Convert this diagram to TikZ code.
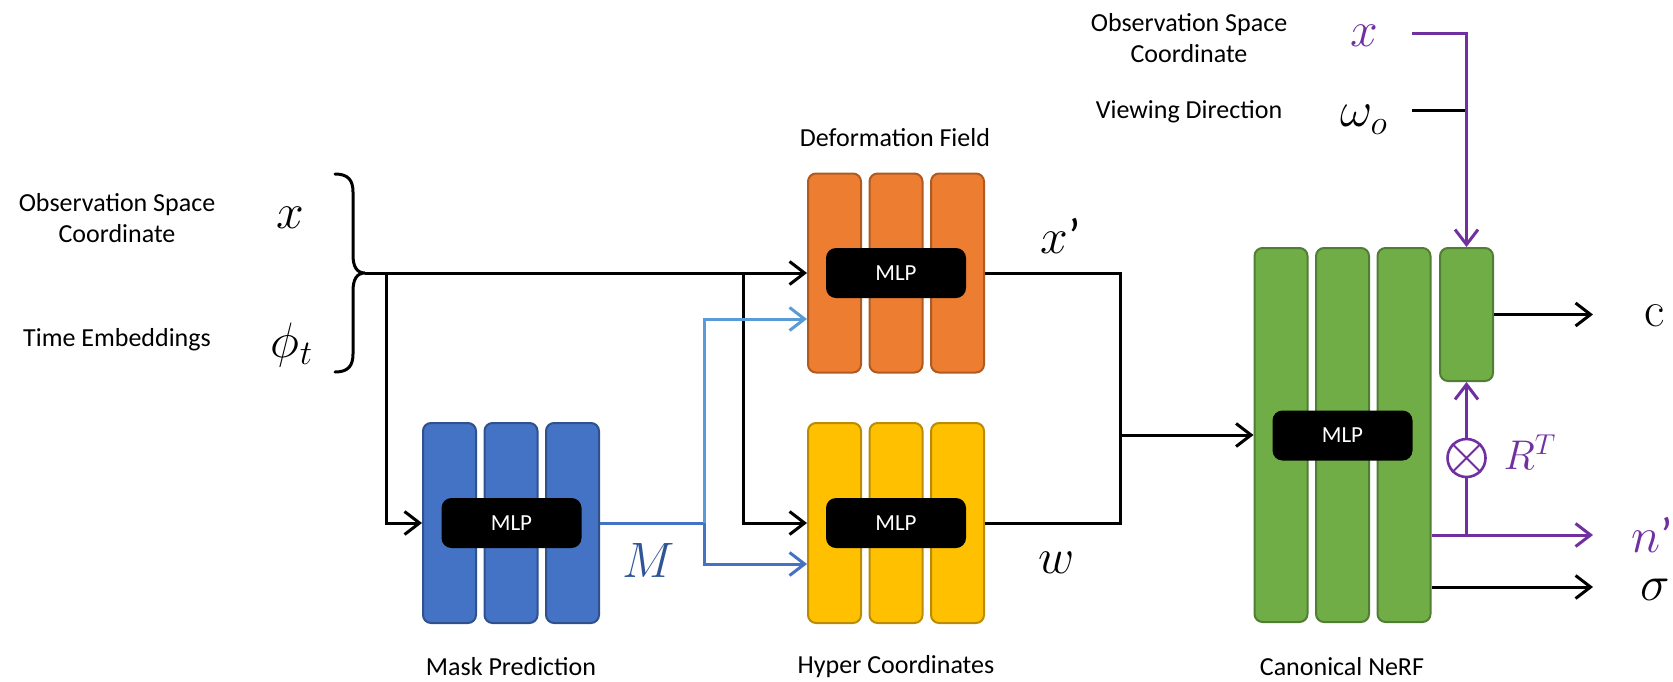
\documentclass[tikz,border=0pt]{standalone}
\usepackage[no-math]{fontspec}
\setmainfont{Carlito}
\usetikzlibrary{arrows.meta}
\definecolor{cOrange}{HTML}{ED7D31}
\definecolor{cOrangeD}{HTML}{AE5A21}
\definecolor{cYellow}{HTML}{FFC000}
\definecolor{cYellowD}{HTML}{BC8C00}
\definecolor{cBlue}{HTML}{4472C4}
\definecolor{cBlueD}{HTML}{2F528F}
\definecolor{cGreen}{HTML}{70AD47}
\definecolor{cGreenD}{HTML}{507E32}
\definecolor{cLBlue}{HTML}{5B9BD5}
\definecolor{cPurple}{HTML}{7030A0}
\definecolor{cMlab}{HTML}{2F5597}
\begin{document}
\begin{tikzpicture}[x=0.5pt,y=-0.5pt,
  bar/.style={rectangle, rounded corners=4pt, minimum width=26.5pt, minimum height=100pt, inner sep=0pt, line width=1pt},
  obar/.style={bar, fill=cOrange, draw=cOrangeD, minimum height=99.5pt},
  ybar/.style={bar, fill=cYellow, draw=cYellowD},
  bbar/.style={bar, fill=cBlue, draw=cBlueD},
  gbar/.style={bar, fill=cGreen, draw=cGreenD, minimum height=187pt},
  mlp/.style={rectangle, rounded corners=5pt, fill=black, text=white, minimum width=70pt, minimum height=25pt, inner sep=0pt, font=\fontsize{11.5}{13}\selectfont},
  lbl/.style={font=\fontsize{13}{15.5}\selectfont, align=center, inner sep=0pt},
  mth/.style={font=\fontsize{25}{29}\selectfont, inner sep=0pt},
  conn/.style={line width=1.5pt},
  arr/.style={conn, -{Straight Barb[length=7.5pt,width=11.5pt]}},
  barr/.style={line width=1.5pt, cBlue, -{Straight Barb[length=7.5pt,width=11.5pt]}},
  lbarr/.style={line width=1.5pt, cLBlue, -{Straight Barb[length=7.5pt,width=11.5pt]}},
  pconn/.style={line width=1.5pt, cPurple},
  parr/.style={pconn, -{Straight Barb[length=7.5pt,width=11.5pt]}},
  xcirc/.style={circle, draw=cPurple, line width=1.3pt, minimum size=19pt, inner sep=0pt}
]
\useasboundingbox (0,0) rectangle (1673,681);

% ---- bars ----
\node[bbar] (b1) at (449.5,523) {};
\node[bbar] (b2) at (511,523) {};
\node[bbar] (b3) at (572.5,523) {};
\node[obar] (o1) at (834.5,273) {};
\node[obar] (o2) at (896,273) {};
\node[obar] (o3) at (957.5,273) {};
\node[ybar] (y1) at (834.5,523) {};
\node[ybar] (y2) at (896,523) {};
\node[ybar] (y3) at (957.5,523) {};
\node[gbar] (g1) at (1281,435) {};
\node[gbar] (g2) at (1342.5,435) {};
\node[gbar] (g3) at (1404,435) {};
\node[gbar, minimum height=66.5pt] (gs) at (1466.5,314.5) {};

% ---- MLP boxes ----
\node[mlp] (mlpB) at (511.5,523) {MLP};
\node[mlp] (mlpO) at (896,273) {MLP};
\node[mlp] (mlpY) at (896,523) {MLP};
\node[mlp] (mlpG) at (1342.5,435.5) {MLP};

% ---- labels ----
\node[lbl] (lObs) at (117,218) {Observation Space\\Coordinate};
\node[lbl] (lTime) at (117,340) {Time Embeddings};
\node[mth] (lx) at (290,218) {$x$};
\node[mth] (lphi) at (292,345) {$\phi_t$};
\node[lbl] (lObs2) at (1189,38) {Observation Space\\Coordinate};
\node[lbl] (lView) at (1189,112) {Viewing Direction};
\node[mth, text=cPurple] (lx2) at (1364,36) {$x$};
\node[mth] (lw) at (1364,120) {$\omega_o$};
\node[lbl] (lDef) at (895,138) {Deformation Field};
\node[lbl] (lMask) at (511,667) {Mask Prediction};
\node[lbl] (lHyp) at (896,667) {Hyper Coordinates};
\node[lbl] (lCan) at (1342,667) {Canonical NeRF};
\node[mth] (lxp) at (1061,236) {$x$’};
\node[mth] (lww) at (1057,563) {$w$};
\node[mth, text=cMlab] (lM) at (649,560) {$M$};
\node[mth] (lc) at (1655,316) {$\mathrm{c}$};
\node[mth, text=cPurple] (ln) at (1652,535) {$n$’};
\node[mth] (ls) at (1655,590) {$\sigma$};
\node[mth, font=\fontsize{20}{24}\selectfont, text=cPurple] (lR) at (1530,452) {$R^T$};

% ---- brace ----
\coordinate (bt) at (365,273);
\draw[conn, line cap=round] (335,174) .. controls (348,174) and (353,180) .. (353,192) -- (353,255)
  .. controls (353,267) and (357,273) .. (bt)
  .. controls (357,273) and (353,279) .. (353,291) -- (353,354)
  .. controls (353,366) and (348,372) .. (335,372);

% ---- left connectors ----
\draw[arr] (bt) -- (o1.west);
\coordinate (s1) at (386,273);
\coordinate (s2) at (743,273);
\draw[arr] (s1) |- (b1.west);
\draw[arr] (s2) |- (y1.west);

\coordinate (jb) at (704,523);
\coordinate (mup) at (704,319);
\coordinate (mdn) at (704,564);
\draw[barr] (b3.east) -- (jb) -- (mdn) -- (y1.west |- mdn);
\draw[lbarr] (jb) -- (mup) -- (o1.west |- mup);

\coordinate (jr) at (1120,435);
\draw[conn] (o3.east) -| (jr);
\draw[conn] (y3.east) -| (jr);
\draw[arr] (jr) -- (g1.west);

% ---- right connectors ----
\coordinate (cE) at (1593,314.5);
\draw[arr] (gs.east) -- (cE);
\node[xcirc] (ot) at (1466.5,458) {};
\draw[cPurple, line width=1pt] (ot.45) -- (ot.225) (ot.135) -- (ot.315);
\draw[parr] (ot.north) -- (gs.south);
\coordinate (nj) at (1466.5,535);
\draw[pconn] (ot.south) -- (nj);
\coordinate (nE) at (1593,535);
\draw[parr] (g3.east |- nj) -- (nE);
\coordinate (sE) at (1593,587);
\draw[arr] (g3.east |- sE) -- (sE);

\coordinate (tw) at (1412,110);
\draw[conn] (tw) -- (gs.north |- tw);
\coordinate (tx) at (1412,33);
\draw[parr] (tx) -| (gs.north);
\end{tikzpicture}
\end{document}
